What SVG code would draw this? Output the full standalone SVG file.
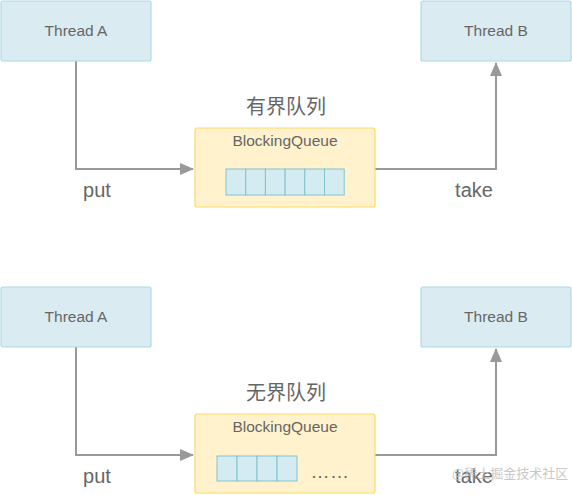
<svg xmlns="http://www.w3.org/2000/svg" width="572" height="495" viewBox="0 0 572 495">
<defs>
<style>
.thread{fill:#dbebf2;stroke:#aed9e6;stroke-width:1.2}
.queue{fill:#fff2cc;stroke:#ffd966;stroke-width:1.2}
.cell{fill:#d4ebf2;stroke:#80c4cf;stroke-width:1}
.t{font-family:"Liberation Sans","Noto Sans CJK SC",Arial,sans-serif;fill:#666;text-anchor:middle}
.lbl{font-size:15.5px}
.big{font-size:20px}
.conn{fill:none;stroke:#999;stroke-width:2}
</style>
<marker id="arr" viewBox="0 0 14 12" refX="13" refY="6" markerWidth="14" markerHeight="12" markerUnits="userSpaceOnUse" orient="auto"><path d="M0,0 L14,6 L0,12 z" fill="#999"/></marker>
</defs>
<rect width="572" height="495" fill="#fff"/>
<g id="connectors">
<path class="conn" d="M76,61 V169 H193" marker-end="url(#arr)"/>
<path class="conn" d="M375,169 H496 V63" marker-end="url(#arr)"/>
<path class="conn" d="M76,347 V455 H193" marker-end="url(#arr)"/>
<path class="conn" d="M375,455 H496 V349" marker-end="url(#arr)"/>
</g>
<g id="threadA1"><rect class="thread" x="1" y="1" width="150" height="60" rx="2"/><text class="t lbl" x="76" y="36">Thread A</text></g>
<g id="threadB1"><rect class="thread" x="421" y="1" width="150" height="60" rx="2"/><text class="t lbl" x="496" y="36">Thread B</text></g>
<g id="queue1">
<text class="t big" x="286" y="114">有界队列</text>
<rect class="queue" x="195" y="128" width="180" height="79" rx="2"/>
<text class="t lbl" x="285" y="146">BlockingQueue</text>
<rect class="cell" x="226" y="169" width="19.7" height="26"/>
<rect class="cell" x="245.7" y="169" width="19.7" height="26"/>
<rect class="cell" x="265.4" y="169" width="19.7" height="26"/>
<rect class="cell" x="285.1" y="169" width="19.7" height="26"/>
<rect class="cell" x="304.8" y="169" width="19.7" height="26"/>
<rect class="cell" x="324.5" y="169" width="19.7" height="26"/>
</g>
<text class="t big" x="97" y="197">put</text>
<text class="t big" x="474" y="197">take</text>
<g id="threadA2"><rect class="thread" x="1" y="287" width="150" height="60" rx="2"/><text class="t lbl" x="76" y="322">Thread A</text></g>
<g id="threadB2"><rect class="thread" x="421" y="287" width="150" height="60" rx="2"/><text class="t lbl" x="496" y="322">Thread B</text></g>
<g id="queue2">
<text class="t big" x="286" y="400">无界队列</text>
<rect class="queue" x="195" y="414" width="180" height="79" rx="2"/>
<text class="t lbl" x="285" y="432">BlockingQueue</text>
<rect class="cell" x="217" y="456" width="20" height="25"/>
<rect class="cell" x="237" y="456" width="20" height="25"/>
<rect class="cell" x="257" y="456" width="20" height="25"/>
<rect class="cell" x="277" y="456" width="20" height="25"/>
<text class="t" x="330" y="478" font-size="19" letter-spacing="0.5">……</text>
</g>
<text class="t big" x="97" y="483">put</text>
<text class="t big" x="474" y="483">take</text>
<text x="452" y="478" font-family="'Noto Sans CJK SC',sans-serif" font-size="13" fill="#bbb" opacity="0.8">@稀土掘金技术社区</text>
</svg>
